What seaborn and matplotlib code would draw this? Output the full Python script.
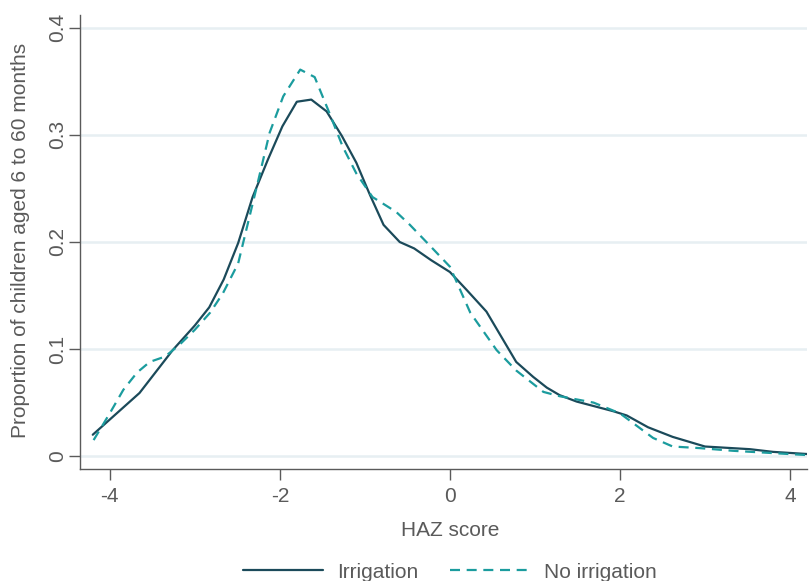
import numpy as np
import pandas as pd
import matplotlib
matplotlib.use("Agg")
import matplotlib.pyplot as plt
from matplotlib.lines import Line2D
import seaborn as sns

# Data
haz_irr = [-4.2, -3.65, -3.26, -3.0, -2.83, -2.66, -2.49, -2.32, -2.14, -1.97, -1.80, -1.63,
           -1.45, -1.27, -1.10, -0.94, -0.78, -0.59, -0.42, -0.22, 0.0, 0.20, 0.43, 0.78, 0.98,
           1.14, 1.29, 1.49, 1.92, 2.08, 2.33, 2.62, 3.0, 3.53, 3.8, 4.2]
prop_irr = [0.020, 0.059, 0.099, 0.122, 0.139, 0.165, 0.199, 0.242, 0.277, 0.308, 0.331, 0.333,
            0.322, 0.299, 0.274, 0.244, 0.216, 0.200, 0.194, 0.183, 0.172, 0.155, 0.135, 0.088, 0.074,
            0.064, 0.057, 0.051, 0.042, 0.038, 0.027, 0.018, 0.009, 0.0065, 0.004, 0.002]

haz_noirr = [-4.19, -4.0, -3.84, -3.68, -3.53, -3.35, -3.18, -3.0, -2.82, -2.67, -2.49, -2.27,
             -2.12, -1.96, -1.76, -1.59, -1.43, -1.26, -1.10, -0.91, -0.63, -0.47, -0.24, 0.0,
             0.24, 0.55, 0.78, 1.10, 1.29, 1.69, 2.0, 2.39, 2.62, 2.94, 3.33, 4.2]
prop_noirr = [0.015, 0.040, 0.062, 0.078, 0.088, 0.093, 0.104, 0.118, 0.134, 0.152, 0.180, 0.252,
              0.302, 0.336, 0.361, 0.354, 0.323, 0.289, 0.264, 0.242, 0.228, 0.216, 0.197, 0.177,
              0.134, 0.099, 0.080, 0.060, 0.056, 0.050, 0.040, 0.017, 0.009, 0.0075, 0.005, 0.001]

groups = ["Irrigation", "No irrigation"]
x_ticks = [-4, -2, 0, 2, 4]
y_ticks = [0, 0.1, 0.2, 0.3, 0.4]
y_ticklabels = ["0", "0.1", "0.2", "0.3", "0.4"]

df = pd.concat([
    pd.DataFrame({"haz": haz_irr, "prop": prop_irr, "group": groups[0]}),
    pd.DataFrame({"haz": haz_noirr, "prop": prop_noirr, "group": groups[1]}),
], ignore_index=True)

sns.set_theme(style="white")
plt.rcParams["font.family"] = ["Liberation Sans", "DejaVu Sans"]

grey = "#5a5a5a"
fs = 15
fig = plt.figure(figsize=(8.09, 5.81), dpi=100)
ax = fig.add_axes([80 / 809, 1 - 469 / 581, 727 / 809, (469 - 15) / 581])

palette = {"Irrigation": "#1b4a5a", "No irrigation": "#1b9c9e"}
dashes = {"Irrigation": "", "No irrigation": (4.5, 3)}
sns.lineplot(data=df, x="haz", y="prop", hue="group", style="group",
             palette=palette, dashes=dashes, linewidth=1.6, sort=False,
             estimator=None, legend=False, ax=ax, zorder=3)

ax.set_xlim(-4.35, 4.2)
ax.set_ylim(-0.012, 0.412)
ax.set_xticks(x_ticks)
ax.set_xticklabels([str(t) for t in x_ticks])
ax.set_yticks(y_ticks)
ax.set_yticklabels(y_ticklabels, rotation=90, va="center")

for y in y_ticks:
    ax.axhline(y, color="#e7eff2", linewidth=1.8, zorder=1)

for side in ["top", "right"]:
    ax.spines[side].set_visible(False)
for side in ["left", "bottom"]:
    ax.spines[side].set_color(grey)
    ax.spines[side].set_linewidth(1.0)

ax.tick_params(axis="both", which="major", direction="out", length=8, width=1.0,
               color=grey, labelcolor=grey, labelsize=fs, bottom=True, left=True)
ax.tick_params(axis="x", pad=5)
ax.tick_params(axis="y", pad=1.5)

ax.set_xlabel("HAZ score", fontsize=fs, color=grey)
ax.set_ylabel("Proportion of children aged 6 to 60 months", fontsize=fs, color=grey)
ax.xaxis.set_label_coords((450 - 80) / 727, -(531 - 469) / 454)
ax.yaxis.set_label_coords(-(80 - 20) / 727, (469 - 240) / 454)
ax.xaxis.label.set_va("center")
ax.yaxis.label.set_va("center")

handles = [Line2D([0], [0], color=palette[g], linewidth=1.6,
                  linestyle="-" if g == "Irrigation" else (0, (4.5, 3))) for g in groups]
leg = fig.legend(handles, groups, loc="center", bbox_to_anchor=(450 / 809, 9 / 581),
                 ncol=2, frameon=False, fontsize=fs, handlelength=3.84,
                 handletextpad=0.67, columnspacing=1.5, borderpad=0, borderaxespad=0)
for t in leg.get_texts():
    t.set_color(grey)

fig.savefig("out.png", dpi=100)
